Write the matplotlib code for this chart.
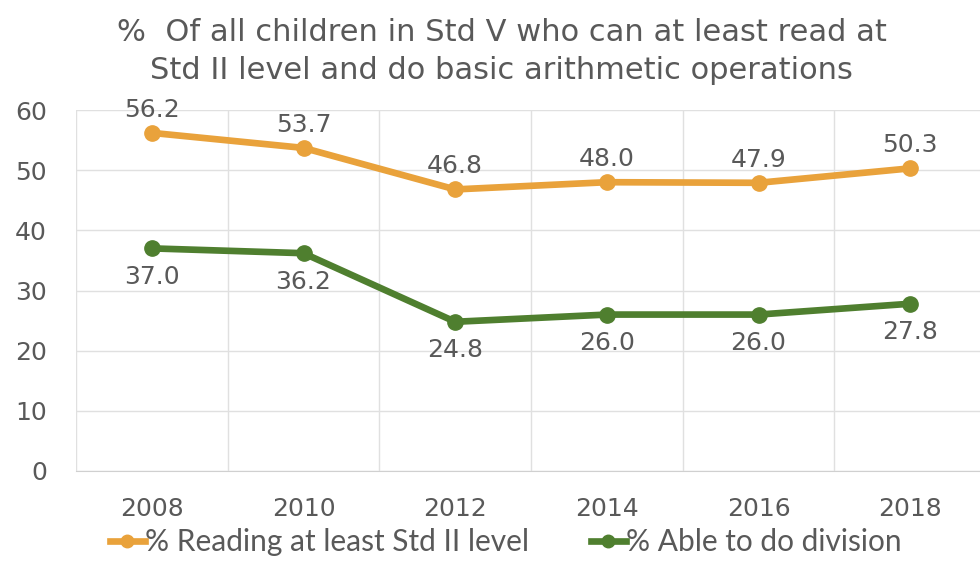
import matplotlib
matplotlib.use("Agg")
import matplotlib.pyplot as plt
from matplotlib.lines import Line2D

years = ["2008", "2010", "2012", "2014", "2016", "2018"]
reading = [56.2, 53.7, 46.8, 48.0, 47.9, 50.3]
division = [37.0, 36.2, 24.8, 26.0, 26.0, 27.8]
title = "%  Of all children in Std V who can at least read at\nStd II level and do basic arithmetic operations"
label_reading = "% Reading at least Std II level"
label_division = "% Able to do division"

orange = "#E9A23B"
green = "#4F7F2F"
txt = "#595959"
grid = "#E0E0E0"
FONT = "DejaVu Sans"

fig = plt.figure(figsize=(9.8, 5.63), dpi=100)
ax = fig.add_axes([76/980, 92/563, 910/980, 361/563])
x = list(range(len(years)))

ax.plot(x, reading, color=orange, lw=4.8, marker="o", ms=11, solid_capstyle="round", zorder=3)
ax.plot(x, division, color=green, lw=4.8, marker="o", ms=11, solid_capstyle="round", zorder=3)

for xi, v in zip(x, reading):
    ax.annotate(f"{v:.1f}", (xi, v), xytext=(0, 8), textcoords="offset points",
                ha="center", va="bottom", fontsize=18, color=txt, family=FONT)
for xi, v in zip(x, division):
    ax.annotate(f"{v:.1f}", (xi, v), xytext=(0, -12), textcoords="offset points",
                ha="center", va="top", fontsize=18, color=txt, family=FONT)

ax.set_xlim(-0.5, len(years) - 0.5)
ax.set_ylim(0, 60)
ax.set_yticks(range(0, 61, 10))
ax.set_xticks(x)
ax.set_xticklabels(years)
ax.set_xticks([i - 0.5 for i in range(len(years) + 1)], minor=True)
ax.tick_params(axis="both", which="both", length=0, labelsize=18, labelcolor=txt)
ax.tick_params(axis="y", pad=21)
ax.tick_params(axis="x", pad=19)
for lab in ax.get_xticklabels() + ax.get_yticklabels():
    lab.set_family(FONT)
ax.grid(axis="y", which="major", color=grid, lw=1)
ax.grid(axis="x", which="minor", color=grid, lw=1)
ax.set_axisbelow(True)
for s in ["top", "right", "left"]:
    ax.spines[s].set_visible(False)
ax.spines["bottom"].set_color("#D0D0D0")

fig.text(0.512, 0.968, title, ha="center", va="top", fontsize=22, color=txt,
         family=FONT, linespacing=1.38)

handles = [Line2D([], [], color=orange, lw=4.8, marker="o", ms=9),
           Line2D([], [], color=green, lw=4.8, marker="o", ms=9)]
fig.legend(handles, [label_reading, label_division], loc="lower center",
           bbox_to_anchor=(0.516, -0.036), ncol=2, frameon=False,
           handlelength=1.15, handletextpad=0.0, columnspacing=2.1,
           prop={"family": "Lato", "size": 21.5}, labelcolor=txt)

fig.savefig("out.png", dpi=100)
